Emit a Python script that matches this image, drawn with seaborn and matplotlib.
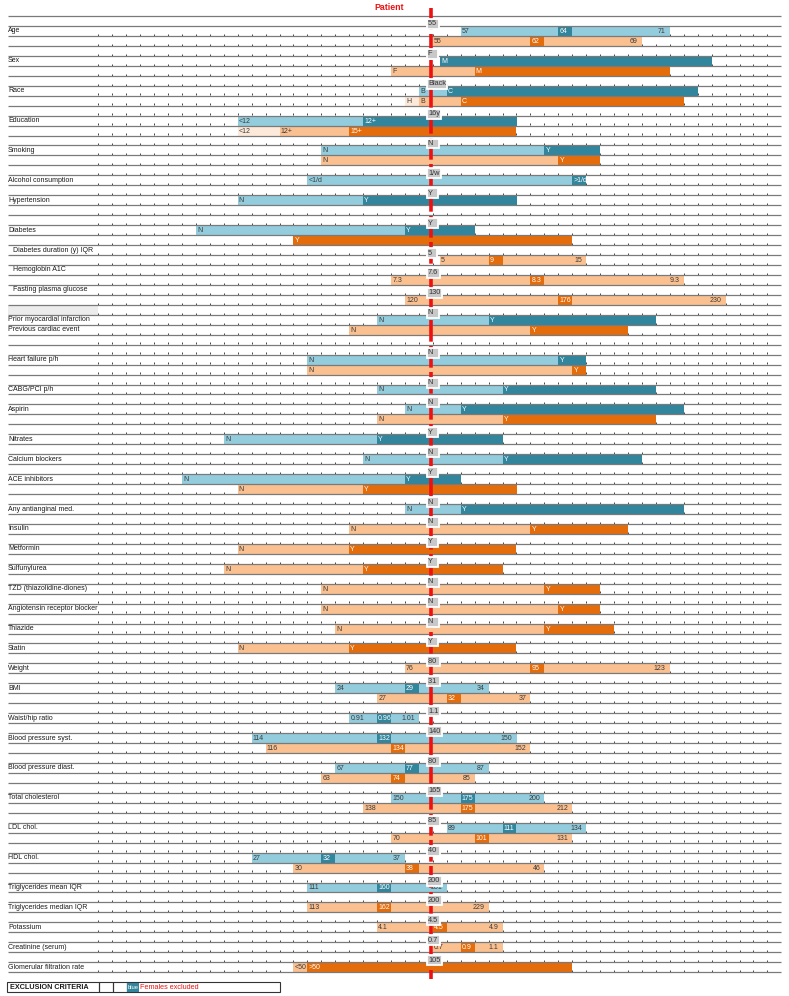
import numpy as np
import matplotlib
matplotlib.use("Agg")
import matplotlib.pyplot as plt
from matplotlib.patches import Rectangle
import seaborn as sns

sns.set_theme(style="white")
plt.rcParams['font.family'] = ['Liberation Sans Narrow', 'Liberation Sans', 'DejaVu Sans']

# ---------------- data (bar extents in grid-tick units) ----------------
labels = ['Age', 'Sex', 'Race', 'Education', 'Smoking', 'Alcohol consumption',
          'Hypertension', 'Diabetes', 'Diabetes duration (y) IQR', 'Hemoglobin A1C',
          'Fasting plasma glucose', 'Prior myocardial infarction', 'Previous cardiac event',
          'Heart failure p/h', 'CABG/PCI p/h', 'Aspirin', 'Nitrates', 'Calcium blockers',
          'ACE inhibitors', 'Any antianginal med.', 'Insulin', 'Metformin', 'Sulfunylurea',
          'TZD (thiazolidine-diones)', 'Angiotensin receptor blocker', 'Thiazide', 'Statin',
          'Weight', 'BMI', 'Waist/hip ratio', 'Blood pressure syst.', 'Blood pressure diast.',
          'Total cholesterol', 'LDL chol.', 'HDL chol.', 'Triglycerides mean IQR',
          'Triglycerides median IQR', 'Potassium', 'Creatinine (serum)',
          'Glomerular filtration rate']

patient = ['55', 'F', 'Black', '16y', 'N', '1/w', 'Y', 'Y', '5', '7.6', '130', 'N', None,
           'N', 'N', 'N', 'Y', 'N', 'Y', 'N', 'N', 'Y', 'Y', 'N', 'N', 'N', 'Y',
           '80', '31', '1.1', '140', '80', '165', '85', '40', '200', '200', '4.5', '0.7', '105']
patient_pos = 23.9

blue_bounds = [[26, 33, 34, 41], [24.5, 44], [23, 25, 43], [10, 19, 30], [16, 32, 36],
               [15, 34, 35], [10, 19, 30], [7, 22, 27], None, None, None,
               [20, 28, 40], None, [15, 33, 35], [20, 29, 40], [22, 26, 42], [9, 20, 29],
               [19, 29, 39], [6, 22, 26], [22, 26, 42], None, None, None, None, None, None,
               None, None, [17, 22, 23, 28], [18, 20, 21, 23], [11, 20, 21, 30],
               [17, 22, 23, 28], [21, 26, 27, 32], [25, 29, 30, 35], [11, 16, 17, 22],
               [15, 20, 21, 25], None, None, None, None]
blue_shade = ['LDL', 'D', 'LD', 'LD', 'LD', 'LD', 'LD', 'LD', None, None, None,
              'LD', None, 'LD', 'LD', 'LD', 'LD', 'LD', 'LD', 'LD', None, None, None, None,
              None, None, None, None, 'LDL', 'LDL', 'LDL', 'LDL', 'LDL', 'LDL', 'LDL', 'LDL',
              None, None, None, None]
blue_text = [['57', '64', '71'], ['M'], ['B', 'C'], ['<12', '12+'], ['N', 'Y'],
             ['<1/d', '>1/d'], ['N', 'Y'], ['N', 'Y'], None, None, None,
             ['N', 'Y'], None, ['N', 'Y'], ['N', 'Y'], ['N', 'Y'], ['N', 'Y'], ['N', 'Y'],
             ['N', 'Y'], ['N', 'Y'], None, None, None, None, None, None, None, None,
             ['24', '29', '34'], ['0.91', '0.96', '1.01'], ['114', '132', '150'],
             ['67', '77', '87'], ['150', '175', '200'], ['89', '111', '134'],
             ['27', '32', '37'], ['111', '160', '201'], None, None, None, None]

orange_bounds = [[24, 31, 32, 39], [21, 27, 41], [22, 23, 26, 42], [10, 13, 18, 30],
                 [16, 33, 36], None, None, [14, 34], [24.5, 28, 29, 35], [21, 31, 32, 42],
                 [22, 33, 34, 45], None, [18, 31, 38], [15, 34, 35], None, [20, 29, 40],
                 None, None, [10, 19, 30], None, [18, 31, 38], [10, 18, 30], [9, 19, 29],
                 [16, 32, 36], [16, 33, 36], [17, 32, 37], [10, 18, 30], [22, 31, 32, 41],
                 [20, 25, 26, 31], None, [12, 21, 22, 31], [16, 21, 22, 27],
                 [19, 26, 27, 34], [21, 27, 28, 34], [14, 22, 23, 32], None,
                 [15, 20, 21, 28], [20, 24, 25, 29], [24, 26, 27, 29], [14, 15, 34]]
orange_shade = ['LDL', 'LD', 'PLD', 'PLD', 'LD', None, None, 'D', 'LDL', 'LDL', 'LDL',
                None, 'LD', 'LD', None, 'LD', None, None, 'LD', None, 'LD', 'LD', 'LD',
                'LD', 'LD', 'LD', 'LD', 'LDL', 'LDL', None, 'LDL', 'LDL', 'LDL', 'LDL', 'LDL',
                None, 'LDL', 'LDL', 'LDL', 'LD']
orange_text = [['55', '62', '69'], ['F', 'M'], ['H', 'B', 'C'], ['<12', '12+', '15+'],
               ['N', 'Y'], None, None, ['Y'], ['5', '9', '15'], ['7.3', '8.3', '9.3'],
               ['120', '176', '230'], None, ['N', 'Y'], ['N', 'Y'], None, ['N', 'Y'],
               None, None, ['N', 'Y'], None, ['N', 'Y'], ['N', 'Y'], ['N', 'Y'], ['N', 'Y'],
               ['N', 'Y'], ['N', 'Y'], ['N', 'Y'], ['76', '95', '123'], ['27', '32', '37'],
               None, ['116', '134', '152'], ['63', '74', '85'], ['138', '175', '212'],
               ['70', '101', '131'], ['30', '38', '46'], None, ['113', '162', '229'],
               ['4.1', '4.5', '4.9'], ['0.7', '0.9', '1.1'], ['<50', '>50']]

# ---------------- layout ----------------
label_row = [1, 4, 7, 10, 13, 16, 18, 21, 23, 25, 27, 30, 31, 34, 37, 39, 42, 44, 46, 49,
             51, 53, 55, 57, 59, 61, 63, 65, 67, 70, 72, 75, 78, 81, 84, 87, 89, 91, 93, 95]
indented = {8, 9, 10}


def px_x(p):
    return (p - 98.3) / 13.94


def px_y(p):
    return (p - 16) / 9.96


blue_pal = {'L': '#93CDDD', 'D': '#31859C'}
orange_pal = {'L': '#FAC090', 'D': '#E46C0A', 'P': '#FDE9D9'}
txt_dark = '#3a3a3a'

fig = plt.figure(figsize=(7.89, 9.96), dpi=100)
ax = fig.add_axes([0, 0, 1, 1])
ax.set_xlim(px_x(0), px_x(789))
ax.set_ylim(px_y(996), px_y(0))
ax.axis('off')

# grid lines and small tick marks
ax.hlines(np.arange(0, 97), px_x(8), px_x(781), colors='#7a7a7a', lw=0.9, zorder=3)
tx, ty = np.meshgrid(np.arange(0, 49), np.arange(2, 97))
ax.plot(tx.ravel(), ty.ravel() - 0.12, ls='none', marker='|', ms=1.4, mew=0.7,
        color='#444444', zorder=1)
ax.add_patch(Rectangle((px_x(8), 29), px_x(98) - px_x(8), 1, fc='#ececec', ec='none', zorder=1))


def draw_bar(row, bounds, shade, texts, pal):
    b = np.array(bounds, dtype=float)
    lefts, widths = b[:-1], np.diff(b)
    ax.barh(np.full(len(widths), row + 0.5), widths, left=lefts, height=1.0,
            color=[pal[s] for s in shade], linewidth=0, zorder=2)
    for i, t in enumerate(texts):
        if shade == 'LDL' and i == 2:
            ax.text(b[-1] - 0.3, row + 0.55, t, ha='right', va='center', fontsize=5.0,
                    color=txt_dark, zorder=4)
        else:
            c = 'white' if shade[i] == 'D' else txt_dark
            ax.text(lefts[i] + 0.08, row + 0.55, t, ha='left', va='center', fontsize=5.0,
                    color=c, zorder=4)


for i, name in enumerate(labels):
    base = label_row[i] + (1 if i in indented else 0)
    xlab = px_x(13) if i in indented else px_x(8)
    ax.text(xlab, label_row[i] + 0.5, name, ha='left', va='center', fontsize=5.0,
            color='#1a1a1a', zorder=4)
    orow = base
    if blue_bounds[i] is not None:
        draw_bar(base, blue_bounds[i], blue_shade[i], blue_text[i], blue_pal)
        orow = base + 1
    if orange_bounds[i] is not None:
        draw_bar(orow, orange_bounds[i], orange_shade[i], orange_text[i], orange_pal)
    if patient[i] is not None:
        ax.text(px_x(428), base - 0.2, patient[i].ljust(3), ha='left', va='center',
                fontsize=5.3, color='#333333', zorder=6,
                bbox=dict(boxstyle='square,pad=0.2', fc='#c8c8c8', ec='white', lw=1.3))

# patient line
ax.plot([patient_pos, patient_pos], [px_y(8), px_y(979)], color='#ee1111', lw=2.6,
        dashes=(6, 1.2), zorder=5)
ax.text(px_x(389), px_y(7), 'Patient', ha='center', va='center', fontsize=6.3,
        color='#ee1111', fontweight='bold')

# exclusion criteria table
for x0, x1 in [(7, 99), (99, 113), (113, 127), (127, 280)]:
    ax.add_patch(Rectangle((px_x(x0), 97), px_x(x1) - px_x(x0), 1, fc='none',
                           ec='#333333', lw=0.8, zorder=3))
ax.text(px_x(10), 97.5, 'EXCLUSION CRITERIA', ha='left', va='center', fontsize=5.2,
        fontweight='bold', color='#1a1a1a')
ax.add_patch(Rectangle((px_x(127), 97.05), px_x(139) - px_x(127), 0.9, fc='#31859C',
                       ec='none', zorder=3))
ax.text(px_x(127.5), 97.5, 'blue', ha='left', va='center', fontsize=4.2, color='white', zorder=4)
ax.text(px_x(140), 97.5, 'Females excluded', ha='left', va='center', fontsize=5.2,
        color='#ee1111', zorder=4)

fig.savefig('out.png', dpi=100)
